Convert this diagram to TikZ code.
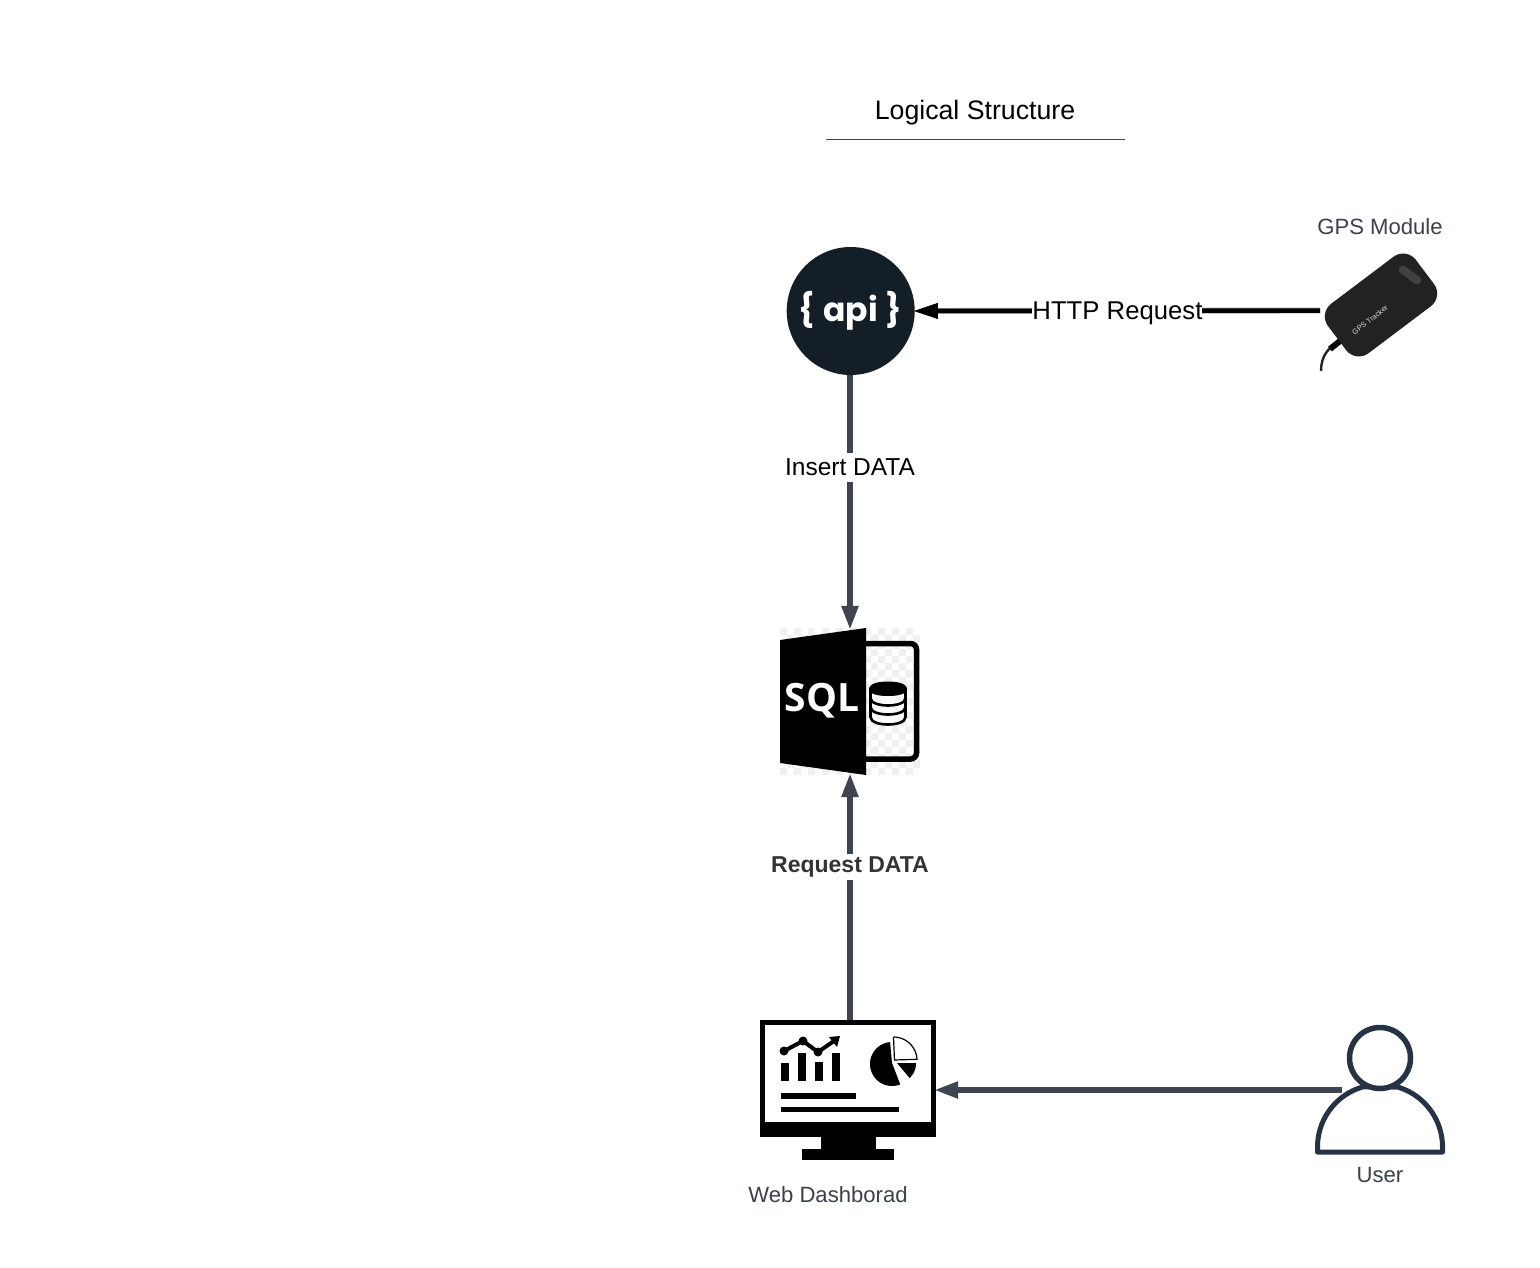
\documentclass[tikz,border=0pt]{standalone}
\usepackage{fontspec}
\setmainfont{Liberation Sans}
\newfontfamily\iconfont{Poppins}
\newfontfamily\sqlfont{Open Sans}
\usetikzlibrary{arrows.meta}
\definecolor{conn}{HTML}{3E4450}
\definecolor{txt}{HTML}{3A414A}
\definecolor{navy}{HTML}{253345}
\definecolor{apibg}{HTML}{141E26}
\definecolor{gpsbody}{HTML}{222224}
\definecolor{checker}{HTML}{F0F0F0}
\newcommand{\fs}[1]{\fontsize{#1}{#1}\selectfont}
\tikzset{
  x=1pt,y=-1pt,
  conline/.style={draw=conn,line width=5.5pt,shorten >=-2pt,-{Triangle[length=24pt,width=16pt]}},
  edgelabel/.style={fill=white,inner xsep=2pt,text=black},
  caption/.style={text=txt,inner sep=0pt,font=\fs{22.1}},
  dbband/.style={line width=2.6pt,draw=black,fill=white},
}
\begin{document}
\begin{tikzpicture}
\useasboundingbox (0,0) rectangle (1540,1268);
\fill[white] (0,0) rectangle (1540,1268);

% title
\node[inner sep=0pt,font=\fs{26.7},yshift=-3pt] (title) at (975,110) {Logical Structure};
\coordinate (ruleL) at (826,139);
\coordinate (ruleR) at (1125,139);
\draw[line width=0.8pt,draw=conn] (ruleL) -- (ruleR);

% api
\node[circle,fill=apibg,minimum size=128pt,inner sep=0pt,text=white,font=\iconfont\bfseries\fs{33}] (api) at (850.7,311) {\{\hspace{8pt}api\hspace{8pt}\}};

% gps device
\coordinate (cableA) at (1340,340);
\coordinate (cableB) at (1321,371);
\draw[line width=2.4pt,draw=gpsbody] (cableA) .. controls (1328,348) and (1321,356) .. (cableB);
\draw[line width=6pt,draw=black] (1340,341) -- (1330,349);
\node[rectangle,rounded corners=16pt,fill=gpsbody,minimum width=110pt,minimum height=62pt,rotate=37,inner sep=0pt] (gps) at (1381,305) {};
\node[rotate=38,text=white!85!black,inner sep=0pt,font=\fs{7.5}] (gpstext) at (1370,320) {GPS Tracker};
\node[rectangle,rounded corners=4pt,fill=white!14!gpsbody,minimum width=26pt,minimum height=8pt,rotate=-37,inner sep=0pt] (gpsslot) at (1410,275) {};
\coordinate (gpsport) at (1320,310.5);
\node[caption] (gpslabel) at (1380,227) {GPS Module};

% sql icon
\node[rectangle,minimum width=140pt,minimum height=147pt,inner sep=0pt] (sql) at (850,701.5) {};
\foreach \ix in {0,...,19}{
  \foreach \iy in {0,...,20}{
    \pgfmathparse{int(mod(\ix+\iy,2))}
    \ifnum\pgfmathresult=0
      \fill[checker] ({780+7*\ix},{628+7*\iy}) rectangle ++(7,7);
    \fi
  }
}
\draw[line width=5.5pt,draw=black,fill=none,rounded corners=6pt] (862,643.5) -- (916.5,643.5) -- (916.5,759) -- (862,759);
\fill[black] (780,640) -- (866,628) -- (866,775) -- (780,763) -- cycle;
\node[text=white,inner sep=0pt,font=\sqlfont\bfseries\fs{39},yshift=-4pt] (sqltext) at (822,697) {SQL};
\foreach \yy in {717,707}{
  \draw[dbband] (870.5,\yy-10) -- (870.5,\yy) .. controls (870.5,\yy+10) and (905.5,\yy+10) .. (905.5,\yy) -- (905.5,\yy-10);
}
\draw[dbband] (870.5,689) -- (870.5,698) .. controls (870.5,708) and (905.5,708) .. (905.5,698) -- (905.5,689) -- cycle;
\draw[line width=1pt,draw=black,fill=black] (888,682) .. controls (876,682) and (869.5,685) .. (869.5,689) .. controls (869.5,693) and (876,695.5) .. (888,695.5) .. controls (900,695.5) and (906.5,693) .. (906.5,689) .. controls (906.5,685) and (900,682) .. (888,682) -- cycle;

% dashboard
\node[rectangle,minimum width=176pt,minimum height=140pt,inner sep=0pt] (dash) at (848,1090) {};
\fill[black] (760,1020) rectangle (936,1137);
\fill[white] (765,1025) rectangle (931,1122);
\fill[black] (821,1137) rectangle (876,1149);
\fill[black] (802,1149) rectangle (894,1160);
\fill[black] (781,1063) rectangle (789,1081);
\fill[black] (798,1053) rectangle (806,1081);
\fill[black] (815,1062) rectangle (823,1081);
\fill[black] (832,1053) rectangle (840,1081);
\draw[line width=4pt,line join=round] (784,1051) -- (803,1041) -- (818,1052) -- (834,1041);
\fill[black] (840,1036) -- (829,1037) -- (837,1047) -- cycle;
\fill[black] (784,1051) circle[radius=4.5pt];
\fill[black] (803,1041) circle[radius=4.5pt];
\fill[black] (818,1052) circle[radius=4.5pt];
\fill[black] (781,1093) rectangle (856,1099);
\fill[black] (781,1107) rectangle (899,1112);
\fill[black] (892,1063) -- plot[domain=95:292,samples=40,smooth] ({892+22*cos(\x)},{1064-22*sin(\x)}) -- cycle;
\fill[black] (897,1063) -- (916,1063) -- plot[domain=0:-48,samples=12,smooth] ({896.5+19.5*cos(\x)},{1063.5-19.5*sin(\x)}) -- cycle;
\draw[line width=1.2pt,line join=miter] (894.5,1060) -- (893.5,1037.5) -- plot[domain=88:3,samples=20,smooth] ({893.5+23.5*cos(\x)},{1060.5-23.5*sin(\x)}) -- cycle;

% user
\node[rectangle,minimum width=130pt,minimum height=130pt,inner sep=0pt] (user) at (1380,1090) {};
\draw[line width=5pt,draw=navy,line join=round,line cap=round,fill=white] (1317.5,1152) -- plot[domain=180:106,samples=30,smooth] ({1380+62.5*cos(\x)},{1147-62.5*sin(\x)}) -- (1396,1087) -- plot[domain=74:0,samples=30,smooth] ({1380+62.5*cos(\x)},{1147-62.5*sin(\x)}) -- (1442.5,1152) -- cycle;
\draw[line width=5.5pt,draw=navy,fill=white] (1380,1058) circle[radius=30.5pt];
\coordinate (userport) at (1342,1090);
\node[caption,yshift=-1pt] (userlabel) at (1380,1174) {User};
\node[caption] (dashlabel) at (828,1195) {Web Dashborad};

% connectors
\draw[conline] (sql.north |- api.south) -- node[edgelabel,inner ysep=6pt,pos=0.364,font=\fs{24.5}] (insert) {Insert DATA} (sql.north);
\draw[conline] (sql.south |- dash.north) -- node[edgelabel,inner ysep=3pt,pos=0.633,text=black!80,font=\bfseries\fs{23},yshift=-2pt] (reqdata) {Request DATA} (sql.south);
\draw[conline] (userport) -- (dash.east);
\draw[draw=gray!70,double=black,double distance=4.5pt,line width=0.7pt,shorten >=-1pt,-{Triangle[length=24pt,width=16pt,fill=black,color=black]}] (gpsport) -- node[edgelabel,inner xsep=0pt,inner ysep=0pt,pos=0.5,font=\fs{25.7},yshift=-3pt] (http) {HTTP Request} (api.east);
\end{tikzpicture}
\end{document}
